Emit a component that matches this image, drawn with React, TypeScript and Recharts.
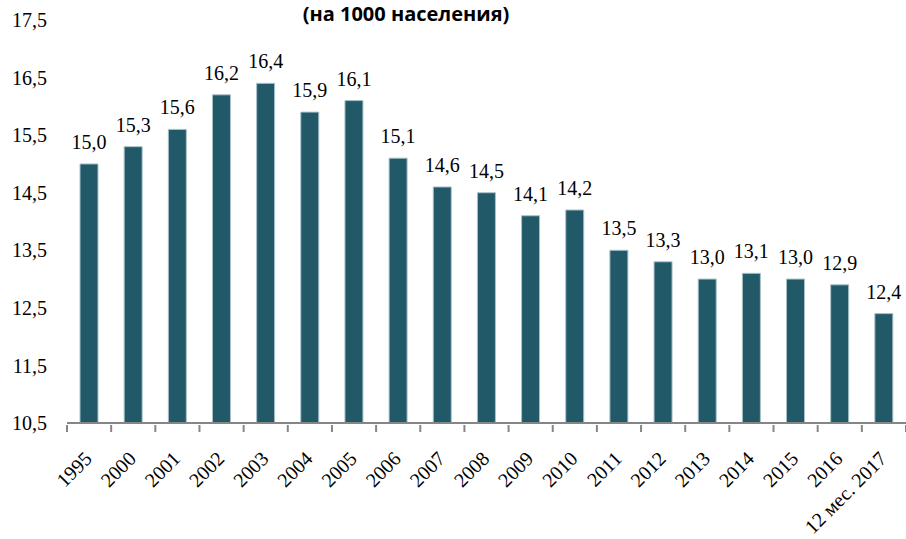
import React from 'react';
import { BarChart, Bar, XAxis, YAxis, LabelList } from 'recharts';

const categories = ['1995', '2000', '2001', '2002', '2003', '2004', '2005', '2006', '2007', '2008', '2009', '2010', '2011', '2012', '2013', '2014', '2015', '2016', '12 мес. 2017'];
const values = [15.0, 15.3, 15.6, 16.2, 16.4, 15.9, 16.1, 15.1, 14.6, 14.5, 14.1, 14.2, 13.5, 13.3, 13.0, 13.1, 13.0, 12.9, 12.4];
const yTicks = [10.5, 11.5, 12.5, 13.5, 14.5, 15.5, 16.5, 17.5];
const titleText = '(на 1000 населения)';

const data = categories.map((c, i) => ({ name: c, value: values[i] }));

const fmt = (v: number) => v.toFixed(1).replace('.', ',');

const FONT = '"Liberation Serif", "Times New Roman", serif';
const AXIS_COLOR = '#868686';

const XTick = (props: any) => {
  const { x, y, payload, index, width, visibleTicksCount } = props;
  const count = visibleTicksCount || categories.length;
  const step = width / count;
  const ax = x + 4;
  const ay = y + 27;
  const top = y - 8;
  return (
    <g>
      <line x1={x - step / 2} x2={x - step / 2} y1={top} y2={top + 7} stroke={AXIS_COLOR} strokeWidth={2} />
      {index === count - 1 && (
        <line x1={x + step / 2} x2={x + step / 2} y1={top} y2={top + 7} stroke={AXIS_COLOR} strokeWidth={2} />
      )}
      <text
        x={ax}
        y={ay}
        textAnchor="end"
        fontFamily={FONT}
        fontSize={20}
        fill="#000"
        transform={`rotate(-45, ${ax}, ${ay})`}
      >
        {payload.value}
      </text>
    </g>
  );
};

export default function App() {
  return (
    <div style={{ position: 'absolute', left: 0, top: 0, width: 906, height: 539, background: '#fff' }}>
      <BarChart
        width={906}
        height={539}
        data={data}
        margin={{ top: 20, right: 0, bottom: 6, left: 7 }}
      >
        <XAxis
          dataKey="name"
          interval={0}
          height={110}
          axisLine={{ stroke: AXIS_COLOR, strokeWidth: 2 }}
          tickLine={false}
          tickSize={8}
          tick={<XTick />}
        />
        <YAxis
          width={60}
          domain={[10.5, 17.5]}
          ticks={yTicks}
          allowDataOverflow
          axisLine={false}
          tickLine={false}
          tickSize={0}
          tickMargin={20}
          tickFormatter={fmt}
          tick={{ fontFamily: FONT, fontSize: 20, fill: '#000' }}
        />
        <Bar
          dataKey="value"
          fill="#215968"
          stroke="#a9c2c9"
          strokeWidth={1}
          barSize={18}
          isAnimationActive={false}
        >
          <LabelList
            dataKey="value"
            position="top"
            offset={15}
            formatter={(v: any) => fmt(Number(v))}
            style={{ fontFamily: FONT, fontSize: 20, fill: '#000' }}
          />
        </Bar>
      </BarChart>
      <svg width={906} height={30} style={{ position: 'absolute', left: 0, top: 0, overflow: 'visible' }}>
        <text
          x={406}
          y={21}
          textAnchor="middle"
          fontFamily='"Open Sans", sans-serif'
          fontWeight={700}
          fontSize={20}
          fill="#000"
        >
          {titleText}
        </text>
      </svg>
    </div>
  );
}
